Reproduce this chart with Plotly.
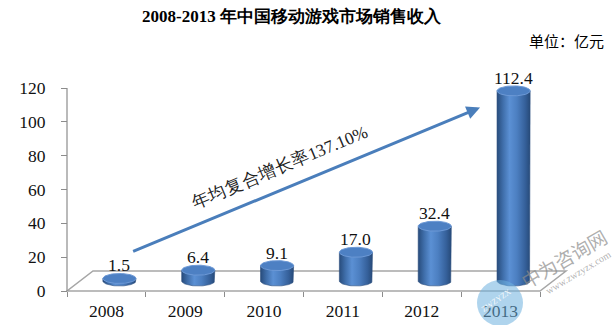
import numpy as np
import plotly.graph_objects as go

# ---- data -----------------------------------------------------------------
years = ["2008", "2009", "2010", "2011", "2012", "2013"]
revenue = [1.5, 6.4, 9.1, 17.0, 32.4, 112.4]          # 亿元
y_tick_vals = [0, 20, 40, 60, 80, 100, 120]
title_text = "2008-2013 年中国移动游戏市场销售收入"
unit_text = "单位：亿元"
cagr_text = "年均复合增长率137.10%"

# ---- geometry of the pseudo-3D frame ---------------------------------------
W, H = 614, 325
FRONT_LEFT, FRONT_RIGHT = 67, 540      # front edge of the floor (px)
ZERO_ROW, TOP_ROW = 291, 88            # pixel rows of value 0 and 120
Y_MAX = 120
DEPTH_PX = (26, 20)                    # floor depth (right, up) in px

px_cat = (FRONT_RIGHT - FRONT_LEFT) / len(years)
px_val = (ZERO_ROW - TOP_ROW) / Y_MAX

x_range = [-0.5 - FRONT_LEFT / px_cat, -0.5 + (W - FRONT_LEFT) / px_cat]
y_range = [-(H - ZERO_ROW) / px_val, ZERO_ROW / px_val]

depth_x = DEPTH_PX[0] / px_cat
depth_y = DEPTH_PX[1] / px_val
# cylinders stand half-way into the floor
x2_range = [r - depth_x / 2 for r in x_range]
y2_range = [r - depth_y / 2 for r in y_range]

SERIF = "Liberation Serif"
CJK = "Noto Sans CJK SC"
AXIS_GREY = "#8c8c8c"

fig = go.Figure()

# invisible trace that gives the category axis its categories
fig.add_trace(go.Scatter(x=years, y=revenue, mode="markers",
                         marker=dict(opacity=0), hoverinfo="skip",
                         xaxis="x", yaxis="y"))

# ---- cylinders ---------------------------------------------------------------
half_w = 0.21                  # half width, category units
ell_b = 5.0 / px_val           # half height of the ellipses, value units
t_half = np.linspace(0, np.pi, 48)
t_full = np.linspace(0, 2 * np.pi, 96)

body_scale = [[0.0, "#284c7c"], [0.18, "#3f6eaa"], [0.38, "#5b90d4"],
              [0.6, "#4c7fc1"], [0.85, "#35609a"], [1.0, "#274a78"]]

for i, v in enumerate(revenue):
    bx = [i - half_w, i - half_w, i + half_w, i + half_w] + list(i + half_w * np.cos(t_half))
    by = [0, v, v, 0] + list(-ell_b * np.sin(t_half))
    fig.add_trace(go.Scatter(
        x=bx, y=by, mode="lines", fill="toself",
        line=dict(width=0.6, color="#2a4d7d"),
        fillgradient=dict(type="horizontal", colorscale=body_scale),
        hoverinfo="skip", xaxis="x2", yaxis="y2"))
    tx = list(i + half_w * np.cos(t_full))
    ty = list(v + ell_b * np.sin(t_full))
    fig.add_trace(go.Scatter(
        x=tx, y=ty, mode="lines", fill="toself",
        fillcolor="#4d80c3", line=dict(width=1, color="#6d99d6"),
        hoverinfo="skip", xaxis="x2", yaxis="y2"))

# value labels above each cylinder
for i, v in enumerate(revenue):
    fig.add_annotation(x=i, y=v, xref="x2", yref="y2", text=f"{v:.1f}",
                       showarrow=False, xanchor="center", yanchor="bottom",
                       yshift=1,
                       font=dict(family=SERIF, size=17.5, color="#111111"))

# ---- floor of the 3-D plot ---------------------------------------------------
floor = (f"M -0.5 0 L 5.5 0 L {5.5 + depth_x} {depth_y} "
         f"L {-0.5 + depth_x} {depth_y} Z")
fig.add_shape(type="path", path=floor, xref="x", yref="y", layer="below",
              line=dict(color="#a6a6a6", width=1.5), fillcolor="white")
# vertical value axis line
fig.add_shape(type="line", x0=-0.5, x1=-0.5, y0=0, y1=Y_MAX, xref="x", yref="y",
              line=dict(color=AXIS_GREY, width=1.2))

# ---- growth arrow and its caption -------------------------------------------
fig.add_annotation(x=4.74, y=108.5, ax=0.32, ay=23.0,
                   xref="x", yref="y", axref="x", ayref="y",
                   showarrow=True, arrowhead=2, arrowsize=0.9, arrowwidth=3,
                   arrowcolor="#4a7ebb", text="")
fig.add_annotation(x=2.2, y=73.5, xref="x", yref="y", text=cagr_text,
                   showarrow=False, textangle=-22.6,
                   xanchor="center", yanchor="middle",
                   font=dict(family=SERIF, size=17.5, color="#222222"))

# ---- titles -------------------------------------------------------------------
fig.add_annotation(x=292 / W, y=1 - 17 / H, xref="paper", yref="paper",
                   text=f"<b>{title_text}</b>", showarrow=False,
                   xanchor="center", yanchor="middle",
                   font=dict(family=SERIF, size=17, color="#000000"))
fig.add_annotation(x=606 / W, y=1 - 40 / H, xref="paper", yref="paper",
                   xanchor="right", yanchor="middle", text=unit_text,
                   showarrow=False,
                   font=dict(family=CJK, size=15, color="#000000"))

# ---- site watermark -------------------------------------------------------------
fig.add_shape(type="circle", xref="paper", yref="paper",
              x0=477 / W, x1=523 / W, y0=1 - 326 / H, y1=1 - 280 / H,
              fillcolor="rgba(110,176,222,0.55)", line=dict(width=0), layer="above")
fig.add_annotation(x=496 / W, y=1 - 300 / H, xref="paper", yref="paper",
                   text="ZWZYZX", showarrow=False, textangle=-35,
                   xanchor="center", yanchor="middle",
                   font=dict(family=SERIF, size=8, color="rgba(255,255,255,0.9)"))
fig.add_annotation(x=563 / W, y=1 - 258 / H, xref="paper", yref="paper",
                   text="中为咨询网", showarrow=False, textangle=-30,
                   xanchor="center", yanchor="middle",
                   font=dict(family=CJK, size=19, color="rgba(140,140,140,0.7)"))
fig.add_annotation(x=578 / W, y=1 - 272 / H, xref="paper", yref="paper",
                   text="www.zwzyzx.com", showarrow=False, textangle=-31,
                   xanchor="center", yanchor="middle",
                   font=dict(family=SERIF, size=10, color="rgba(140,140,140,0.7)"))

# ---- axes ----------------------------------------------------------------------
tick_font = dict(family=SERIF, size=17.5, color="#111111")
fig.update_layout(
    width=W, height=H,
    margin=dict(l=0, r=0, t=0, b=0),
    paper_bgcolor="white", plot_bgcolor="white",
    showlegend=False,
    xaxis=dict(type="category", categoryarray=years, categoryorder="array",
               domain=[0, 1], range=x_range, anchor="free",
               position=(H - ZERO_ROW) / H,
               tickson="boundaries", ticks="outside", ticklen=5,
               tickcolor=AXIS_GREY, tickwidth=1, showgrid=False,
               zeroline=False, showline=False, ticklabelstandoff=7,
               tickfont=tick_font),
    yaxis=dict(domain=[0, 1], range=y_range, anchor="free",
               position=FRONT_LEFT / W, tickvals=y_tick_vals,
               ticks="outside", ticklen=6, tickcolor=AXIS_GREY, tickwidth=1,
               showgrid=False, zeroline=False, showline=False,
               ticklabelstandoff=12, tickfont=tick_font),
    xaxis2=dict(overlaying="x", range=x2_range, visible=False),
    yaxis2=dict(overlaying="y", range=y2_range, visible=False),
)

fig.write_html("out.html")
